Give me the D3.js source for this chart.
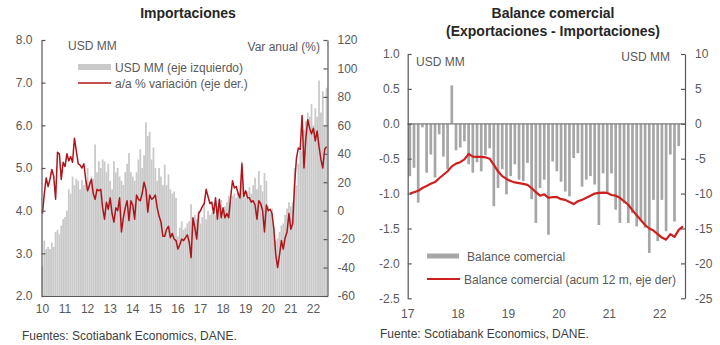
<!DOCTYPE html>
<html>
<head>
<meta charset="utf-8">
<script src="https://cdn.jsdelivr.net/npm/d3@7"></script>
<style>
  body { margin: 0; background: #fff; }
  svg { display: block; font-family: "Liberation Sans", Arial, sans-serif; }
</style>
</head>
<body>
<svg id="chart" width="720" height="345"></svg>
<script>
// ---------- Importaciones (monthly, Jan 2010 - Aug 2022) ----------
const importStartYear = 2010;
const importYearLabels = ["10","11","12","13","14","15","16","17","18","19","20","21","22"];
// USD MM (eje izquierdo), billions
const importsUSD = [
  2.70, 3.30, 3.10, 3.15, 3.10, 3.25, 3.15, 3.50, 3.55, 3.45, 3.65, 3.80,
  3.85, 4.00, 4.50, 4.40, 4.80, 4.60, 4.75, 4.70, 4.50, 4.72, 4.60, 4.70,
  5.00, 4.70, 4.80, 4.75, 5.55, 4.90, 5.16, 5.00, 5.20, 5.15, 4.90, 5.10,
  4.70, 4.50, 5.16, 4.90, 5.00, 4.80, 4.70, 4.60, 4.90, 5.10, 5.35, 4.90,
  4.80, 4.70, 4.90, 5.20, 5.44, 5.00, 5.30, 6.07, 5.75, 5.85, 5.20, 5.48,
  5.00, 4.70, 5.00, 4.80, 4.60, 5.08, 4.60, 4.85, 4.50, 4.40, 4.45, 4.30,
  3.40, 3.60, 3.75, 3.55, 3.60, 3.70, 3.75, 4.15, 3.80, 3.90, 3.80, 4.00,
  3.70, 3.85, 4.20, 3.80, 4.00, 3.90, 3.95, 4.05, 3.90, 4.10, 4.05, 4.25,
  3.95, 4.10, 4.20, 4.35, 4.20, 4.35, 4.40, 4.30, 4.45, 4.40, 5.15, 4.45,
  4.30, 4.45, 4.55, 4.40, 4.60, 4.77, 4.50, 4.93, 4.60, 4.45, 4.88, 4.70,
  4.10, 3.95, 4.05, 3.60, 3.30, 3.35, 3.50, 3.65, 3.70, 3.90, 4.05, 4.20,
  4.10, 4.20, 5.00, 4.60, 5.10, 5.40, 5.40, 5.90, 6.10, 6.30, 6.20, 6.50,
  6.00, 6.40, 6.20, 7.05, 6.30, 6.80, 6.00, 6.88
];
// a/a % variación (eje der.)
const importsYoY = [
  -2, 12, 23, 17, 22, 29, 24, 8, 41, 40, 22, 34,
  31, 40, 35, 38, 34, 51, 42, 33, 32, 30, 33, 22,
  14, 18, 22, 12, 8, 15, 14, 15, 2, -6, 6, 1,
  9, -2, -8, 2, 0, 9, -15, -5, 2, 7, -7, 7,
  4, -6, 11, 8, 7, 12, 20, 15, -1, 11, 8, 9,
  11, 2, -4, -8, -18, -18, -13, -11, -19, -16, -20, -21,
  -27, -24, -20, -21, -19, -17, -22, -33, -5, -12, -20, -2,
  0, 3, 5, 15, 10, 5, 6, -2, 9, -6, 8, -5,
  2, -5, -2, -5, 9, 21, 16, 17, 12, 9, 33, 10,
  14, 9, 9, 6, 7, 4, -6, 7, 5, 0, -15, 4,
  0, 1, -2, -13, -31, -40, -31, -21, -27, -19, -15, -2,
  -13, -9, 18, 37, 44, 43, 67, 30, 51, 64, 58, 54,
  58, 49, 56, 45, 36, 30, 43, 45
];
const importLeftTicks = [2, 3, 4, 5, 6, 7, 8];
const importRightTicks = [-60, -40, -20, 0, 20, 40, 60, 80, 100, 120];

// ---------- Balance comercial (monthly, Jan 2017 - Jun 2022) ----------
const balanceStartYear = 2017;
const balanceYearLabels = ["17","18","19","20","21","22"];
const balanceMonths = 66;
// Balance comercial, USD bn (eje izquierdo)
const balanceUSD = [
  -0.75, -0.63, -1.13, -0.05, -0.70, -0.44, -0.77, -0.15, -0.47, -0.65, 0.55, -0.38,
  -0.34, -0.25, -0.58, -0.70, -0.55, -0.68, -0.45, -0.35, -1.18, -0.92, -0.65, -1.01,
  -0.75, -0.58, -0.80, -0.82, -0.56, -1.08, -1.42, -0.92, -0.80, -1.59, -0.54, -0.68,
  -0.83, -0.97, -1.04, -0.49, -0.42, -0.90, -0.80, -0.75, -0.87, -1.45, -0.71, -0.99,
  -0.71, -1.23, -1.42, -1.14, -1.42, -1.28, -1.47, -1.40, -1.49, -1.85, -1.09, -1.68,
  -1.09, -1.54, -0.44, -1.40, -0.32
];
// Balance comercial acumulado 12 meses, USD bn (eje der)
const balanceAcum12m = [
  -10.0, -9.8, -9.6, -9.2, -8.9, -8.6, -8.35, -7.8, -7.3, -6.8, -6.1, -5.7,
  -5.5, -5.1, -4.3, -4.7, -4.75, -4.75, -4.8, -5.0, -5.9, -6.8, -7.5, -7.9,
  -8.2, -8.4, -8.5, -8.6, -8.75, -9.2, -9.8, -10.3, -10.1, -10.6, -10.5, -10.5,
  -10.8, -10.9, -11.2, -11.5, -11.1, -10.9, -10.6, -10.3, -10.0, -9.9, -9.85, -9.9,
  -10.2, -10.3, -10.6, -11.1, -11.6, -12.4, -13.1, -13.8, -14.5, -15.0, -15.3, -15.8,
  -16.3, -16.6, -15.8, -16.2, -15.2, -14.7
];
const balanceLeftTicks = [-2.5, -2, -1.5, -1, -0.5, 0, 0.5, 1];
const balanceRightTicks = [-25, -20, -15, -10, -5, 0, 5, 10];

// ---------- shared styling ----------
const axisColor = "#595959";
const textColor = "#595959";
const titleColor = "#262626";
const fontSize = 12;

const svg = d3.select("#chart");

function styleAxis(g) {
  g.attr("font-family", null).attr("font-size", null);
  g.selectAll("path.domain").attr("stroke", axisColor).attr("stroke-width", 1.2);
  g.selectAll(".tick line").attr("stroke", axisColor).attr("stroke-width", 1.2);
  g.selectAll(".tick text").attr("fill", textColor).style("font-size", fontSize + "px");
}

// =====================================================================
// Left panel: Importaciones
// =====================================================================
const L = { left: 41.5, right: 327.5, top: 40, bottom: 296 };
const nImp = importsUSD.length;

const xImp = d3.scaleBand()
  .domain(d3.range(nImp))
  .range([L.left, L.right])
  .paddingInner(0.06)
  .paddingOuter(0.03);
const yImpL = d3.scaleLinear().domain([2, 8]).range([L.bottom, L.top]);
const yImpR = d3.scaleLinear().domain([-60, 120]).range([L.bottom, L.top]);

const left = svg.append("g");

// bars
left.append("g").selectAll("rect")
  .data(importsUSD)
  .join("rect")
  .attr("x", (d, i) => xImp(i))
  .attr("width", xImp.bandwidth())
  .attr("y", d => yImpL(d))
  .attr("height", d => yImpL(2) - yImpL(d))
  .attr("fill", "#c9c9c9");

// year-on-year line
left.append("path")
  .datum(importsYoY)
  .attr("fill", "none")
  .attr("stroke", "#b0141b")
  .attr("stroke-width", 1.5)
  .attr("stroke-linejoin", "round")
  .attr("d", d3.line()
    .x((d, i) => xImp(i) + xImp.bandwidth() / 2)
    .y(d => yImpR(d)));

// axes
left.append("g")
  .attr("transform", `translate(${L.left},0)`)
  .call(d3.axisLeft(yImpL).tickValues(importLeftTicks)
    .tickFormat(d => d.toFixed(1)).tickSizeInner(-4).tickSizeOuter(0).tickPadding(9))
  .call(styleAxis);

left.append("g")
  .attr("transform", `translate(${L.right},0)`)
  .call(d3.axisRight(yImpR).tickValues(importRightTicks)
    .tickFormat(d => String(d)).tickSizeInner(-4).tickSizeOuter(0).tickPadding(10))
  .call(styleAxis);

const janImp = importYearLabels.map((s, k) => k * 12);
left.append("g")
  .attr("transform", `translate(0,${L.bottom})`)
  .call(d3.axisBottom(xImp).tickValues(janImp)
    .tickFormat((d, k) => importYearLabels[k]).tickSize(0).tickPadding(8))
  .call(styleAxis);

// titles and labels
left.append("text").attr("x", 188).attr("y", 18).attr("text-anchor", "middle")
  .attr("font-weight", "bold").attr("font-size", 14).attr("fill", titleColor)
  .text("Importaciones");
left.append("text").attr("x", 68).attr("y", 50).attr("font-size", fontSize)
  .attr("fill", textColor).text("USD MM");
left.append("text").attr("x", 320).attr("y", 51).attr("text-anchor", "end")
  .attr("font-size", fontSize).attr("fill", textColor).text("Var anual (%)");

// legend
left.append("rect").attr("x", 78).attr("y", 64).attr("width", 33).attr("height", 6)
  .attr("fill", "#c9c9c9");
left.append("text").attr("x", 115).attr("y", 71.5).attr("font-size", fontSize)
  .attr("fill", textColor).text("USD MM (eje izquierdo)");
left.append("line").attr("x1", 78).attr("x2", 111).attr("y1", 83).attr("y2", 83)
  .attr("stroke", "#b0141b").attr("stroke-width", 1.5);
left.append("text").attr("x", 115).attr("y", 87.5).attr("font-size", fontSize)
  .attr("fill", textColor).text("a/a % variación (eje der.)");

left.append("text").attr("x", 22).attr("y", 340).attr("font-size", fontSize)
  .attr("fill", "#404040").text("Fuentes: Scotiabank Economics, DANE.");

// =====================================================================
// Right panel: Balance comercial
// =====================================================================
const R = { left: 407.7, right: 685, top: 54, bottom: 298.3 };

const xBal = d3.scaleBand()
  .domain(d3.range(balanceMonths))
  .range([R.left, R.right])
  .paddingInner(0.36)
  .paddingOuter(0.18);
const yBalL = d3.scaleLinear().domain([-2.5, 1]).range([R.bottom, R.top]);
const yBalR = d3.scaleLinear().domain([-25, 10]).range([R.bottom, R.top]);

const right = svg.append("g");

// bars
right.append("g").selectAll("rect")
  .data(balanceUSD)
  .join("rect")
  .attr("x", (d, i) => xBal(i))
  .attr("width", xBal.bandwidth())
  .attr("y", d => Math.min(yBalL(d), yBalL(0)))
  .attr("height", d => Math.abs(yBalL(d) - yBalL(0)))
  .attr("fill", "#a6a6a6");

// zero line
right.append("line")
  .attr("x1", R.left).attr("x2", R.right)
  .attr("y1", yBalL(0)).attr("y2", yBalL(0))
  .attr("stroke", "#7f7f7f").attr("stroke-width", 1.2);

// 12-month accumulated line
right.append("path")
  .datum(balanceAcum12m)
  .attr("fill", "none")
  .attr("stroke", "#d01f1f")
  .attr("stroke-width", 2.2)
  .attr("stroke-linejoin", "round")
  .attr("d", d3.line()
    .x((d, i) => xBal(i) + xBal.bandwidth() / 2)
    .y(d => yBalR(d)));

// axes
right.append("g")
  .attr("transform", `translate(${R.left},0)`)
  .call(d3.axisLeft(yBalL).tickValues(balanceLeftTicks)
    .tickFormat(d => d.toFixed(1)).tickSizeInner(-4).tickSizeOuter(0).tickPadding(8))
  .call(styleAxis);

right.append("g")
  .attr("transform", `translate(${R.right},0)`)
  .call(d3.axisRight(yBalR).tickValues(balanceRightTicks)
    .tickFormat(d => String(d)).tickSizeInner(-4).tickSizeOuter(0).tickPadding(10))
  .call(styleAxis);

// year labels at the start of each January slot
const slotOffset = xBal.step() * xBal.paddingInner() / 2;
right.append("g").selectAll("text")
  .data(balanceYearLabels)
  .join("text")
  .attr("x", (d, k) => xBal(k * 12) - slotOffset)
  .attr("y", 317.5)
  .attr("text-anchor", "middle")
  .attr("font-size", fontSize)
  .attr("fill", textColor)
  .text(d => d);

// titles and labels
right.append("text").attr("x", 553).attr("y", 18).attr("text-anchor", "middle")
  .attr("font-weight", "bold").attr("font-size", 14).attr("fill", titleColor)
  .text("Balance comercial");
right.append("text").attr("x", 553).attr("y", 36).attr("text-anchor", "middle")
  .attr("font-weight", "bold").attr("font-size", 14).attr("fill", titleColor)
  .text("(Exportaciones - Importaciones)");
right.append("text").attr("x", 416).attr("y", 66).attr("font-size", fontSize)
  .attr("fill", textColor).text("USD MM");
right.append("text").attr("x", 670).attr("y", 60.5).attr("text-anchor", "end")
  .attr("font-size", fontSize).attr("fill", textColor).text("USD MM");

// legend
right.append("rect").attr("x", 427).attr("y", 253.5).attr("width", 32).attr("height", 5)
  .attr("fill", "#a6a6a6");
right.append("text").attr("x", 467).attr("y", 260.5).attr("font-size", fontSize)
  .attr("fill", textColor).text("Balance comercial");
right.append("line").attr("x1", 427).attr("x2", 460).attr("y1", 279).attr("y2", 279)
  .attr("stroke", "#d01f1f").attr("stroke-width", 2.2);
right.append("text").attr("x", 464).attr("y", 283.5).attr("font-size", fontSize)
  .attr("fill", textColor).text("Balance comercial (acum 12 m, eje der)");

right.append("text").attr("x", 380).attr("y", 338).attr("font-size", fontSize)
  .attr("fill", "#404040").text("Fuente: Scotiabank Economics, DANE.");
</script>
</body>
</html>
